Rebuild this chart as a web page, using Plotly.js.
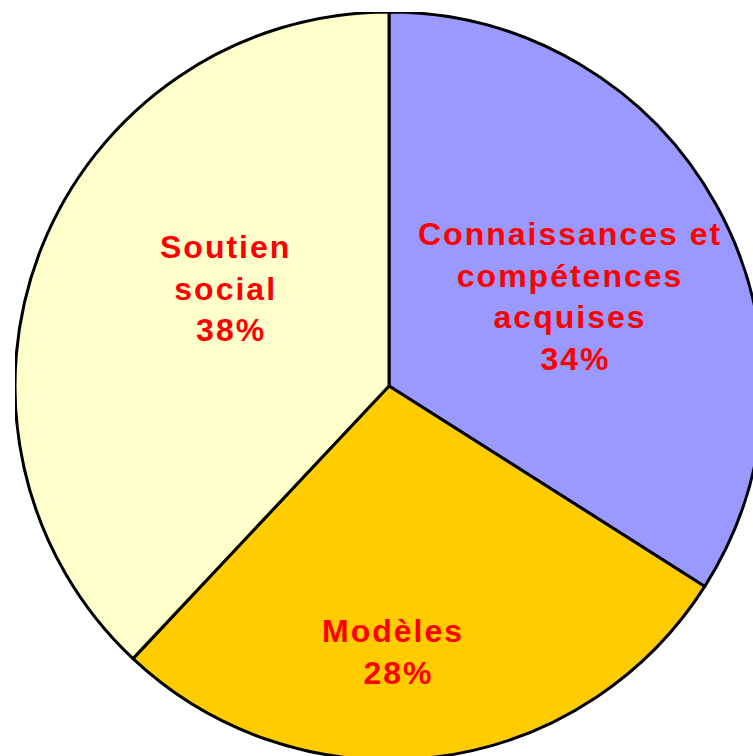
<!DOCTYPE html>
<html>
<head>
<meta charset="utf-8">
<script src="https://cdn.plot.ly/plotly-3.0.1.min.js"></script>
<style>
  html, body { margin: 0; padding: 0; overflow: hidden; background: #ffffff; width: 753px; height: 756px; }
  #chart { position: absolute; left: 15px; top: 12px; width: 748px; height: 748px; }
  .annotation-text { letter-spacing: 2px; }
</style>
</head>
<body>
<div id="chart"></div>
<script>
const categories = ['Connaissances et compétences acquises', 'Modèles', 'Soutien social'];
const displayLabels = ['Connaissances et<br>compétences<br>acquises', 'Modèles', 'Soutien<br>social'];
const values = [34, 28, 38];
const colors = ['#9999FF', '#FFCC00', '#FFFFCC'];

// label anchor positions in paper coordinates (layout only)
const labelPos = [
  {x: 0.742, y: 0.620},
  {x: 0.506, y: 0.144},
  {x: 0.281, y: 0.630}
];

const trace = {
  type: 'pie',
  labels: categories,
  values: values,
  sort: false,
  direction: 'clockwise',
  rotation: 0,
  marker: { colors: colors, line: { color: '#000000', width: 3 } },
  textinfo: 'none',
  hoverinfo: 'none',
  showlegend: false,
  domain: { x: [0, 1], y: [0, 1] }
};

const total = values.reduce((a, b) => a + b, 0);
const annotations = values.map((v, i) => ({
  xref: 'paper', yref: 'paper',
  x: labelPos[i].x, y: labelPos[i].y,
  xanchor: 'center', yanchor: 'middle',
  showarrow: false,
  align: 'center',
  text: '<b>' + displayLabels[i] + '<br>\u00a0' + Math.round(v / total * 100) + '%</b>',
  font: { family: 'Liberation Sans, Arial, sans-serif', size: 32, color: '#FF0000' }
}));

const layout = {
  width: 748, height: 748,
  margin: { l: 0, r: 0, t: 0, b: 0, pad: 0 },
  paper_bgcolor: 'rgba(0,0,0,0)',
  plot_bgcolor: 'rgba(0,0,0,0)',
  showlegend: false,
  annotations: annotations
};

Plotly.newPlot('chart', [trace], layout, { displayModeBar: false, staticPlot: true });
</script>
</body>
</html>
